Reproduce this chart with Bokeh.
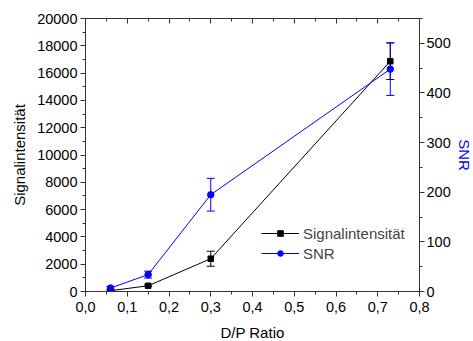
from bokeh.plotting import figure
from bokeh.models import (Range1d, LinearAxis, ColumnDataSource, Whisker, TeeHead,
                          Legend, LegendItem, CustomJSTickFormatter, FixedTicker)
from bokeh.embed import file_html
from bokeh.resources import INLINE

# data
ratio = [0.06, 0.15, 0.30, 0.73]
signal = [60, 420, 2400, 16870]
signal_err = [40, 60, 550, 1340]
snr = [7, 34, 195, 448]
snr_err = [3, 7, 33, 53]

FONT = "Liberation Sans"

p = figure(frame_width=334, frame_height=273, output_backend="svg", toolbar_location=None,
           x_range=Range1d(0, 0.8), y_range=Range1d(0, 20000),
           min_border_left=85, min_border_right=54, min_border_top=18, min_border_bottom=50)
p.extra_y_ranges = {"snr": Range1d(0, 550)}
p.xgrid.visible = False
p.ygrid.visible = False
p.outline_line_color = "#333333"
p.outline_line_width = 1

fmt = CustomJSTickFormatter(code="return tick.toFixed(1).replace('.', ',');")
blank = CustomJSTickFormatter(code="return '';")

def style_axis(ax):
    ax.axis_line_color = "#333333"
    ax.major_tick_line_color = "#333333"
    ax.minor_tick_line_color = "#333333"
    ax.major_label_text_font = FONT
    ax.major_label_text_font_size = "14.5px"
    ax.major_label_text_color = "black"
    ax.major_label_standoff = 3
    ax.axis_label_text_font = FONT
    ax.axis_label_text_font_size = "15px"
    ax.axis_label_text_font_style = "normal"
    ax.axis_label_text_color = "black"
    ax.major_tick_in = 0
    ax.major_tick_out = 5
    ax.minor_tick_in = 0
    ax.minor_tick_out = 3

xa = p.xaxis[0]
style_axis(xa)
xa.ticker = FixedTicker(ticks=[i / 10 for i in range(9)], minor_ticks=[i / 20 for i in range(17)])
xa.formatter = fmt
xa.axis_label = "D/P Ratio"
xa.major_label_standoff = 5
xa.axis_label_standoff = 9

ya = p.yaxis[0]
style_axis(ya)
ya.ticker = FixedTicker(ticks=list(range(0, 20001, 2000)), minor_ticks=list(range(0, 20001, 1000)))
ya.axis_label = "Signalintensität"
ya.axis_label_standoff = 6

ra = LinearAxis(y_range_name="snr", axis_label="SNR")
style_axis(ra)
ra.ticker = FixedTicker(ticks=list(range(0, 501, 100)), minor_ticks=list(range(0, 551, 50)))
ra.axis_label_text_color = "#0000ff"
ra.major_label_standoff = 2
ra.axis_label_standoff = 2
p.add_layout(ra, "right")

ta = LinearAxis()
style_axis(ta)
ta.ticker = FixedTicker(ticks=[i / 10 for i in range(9)], minor_ticks=[i / 20 for i in range(17)])
ta.formatter = blank
ta.major_label_standoff = 0
ta.major_tick_in = 5
ta.major_tick_out = 0
ta.minor_tick_in = 3
ta.minor_tick_out = 0
p.add_layout(ta, "above")

src_s = ColumnDataSource(dict(x=ratio, y=signal,
                              lo=[v - e for v, e in zip(signal, signal_err)],
                              hi=[v + e for v, e in zip(signal, signal_err)]))
src_n = ColumnDataSource(dict(x=ratio, y=snr,
                              lo=[v - e for v, e in zip(snr, snr_err)],
                              hi=[v + e for v, e in zip(snr, snr_err)]))

w1 = Whisker(source=src_s, base="x", upper="hi", lower="lo", dimension="height",
             line_color="black", line_width=1,
             upper_head=TeeHead(size=8, line_color="black"), lower_head=TeeHead(size=8, line_color="black"))
p.add_layout(w1)
w2 = Whisker(source=src_n, base="x", upper="hi", lower="lo", dimension="height",
             line_color="#0000ff", line_width=1, y_range_name="snr",
             upper_head=TeeHead(size=8, line_color="#0000ff"), lower_head=TeeHead(size=8, line_color="#0000ff"))
p.add_layout(w2)

l1 = p.line("x", "y", source=src_s, line_color="black", line_width=1)
m1 = p.scatter("x", "y", source=src_s, marker="square", size=5.5, color="black")
l2 = p.line("x", "y", source=src_n, line_color="#0000ff", line_width=1, y_range_name="snr")
m2 = p.scatter("x", "y", source=src_n, marker="circle", size=6.5, color="#0000ff", y_range_name="snr")

legend = Legend(items=[LegendItem(label="Signalintensität", renderers=[l1, m1]),
                       LegendItem(label="SNR", renderers=[l2, m2])],
                location=(176, 28), border_line_color=None, background_fill_alpha=0,
                padding=0, margin=0, spacing=0, glyph_width=38, glyph_height=14,
                label_height=20, label_standoff=4,
                label_text_font=FONT, label_text_font_size="15px")
p.add_layout(legend, "center")

open("out.html", "w").write(file_html(p, INLINE))
